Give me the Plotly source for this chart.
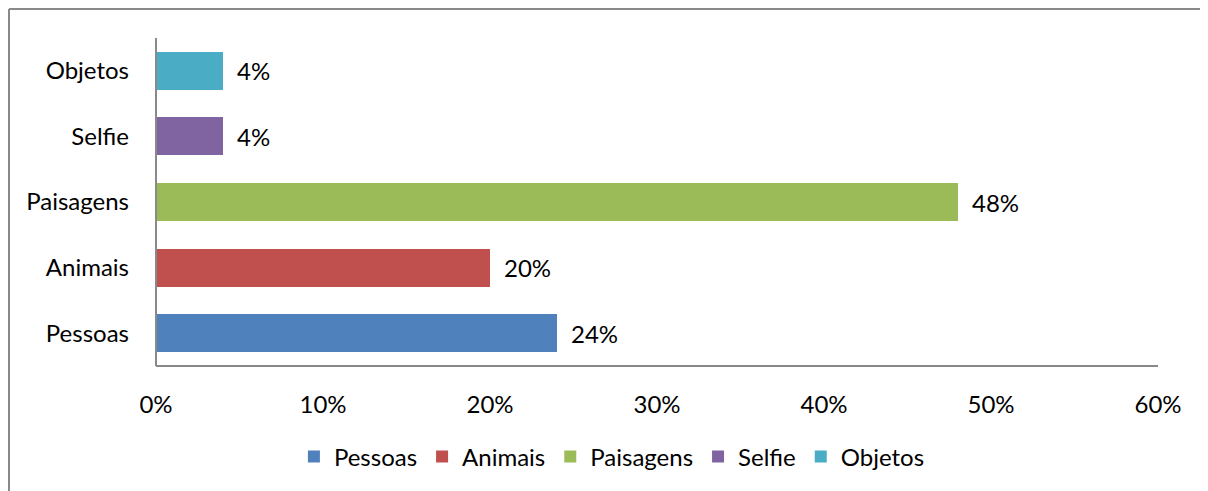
import plotly.graph_objects as go

categories = ["Pessoas", "Animais", "Paisagens", "Selfie", "Objetos"]
values = [0.24, 0.20, 0.48, 0.04, 0.04]
labels = ["24%", "20%", "48%", "4%", "4%"]
colors = ["#4F81BD", "#C0504D", "#9BBB59", "#8064A2", "#4BACC6"]
tick_vals = [0, 0.1, 0.2, 0.3, 0.4, 0.5, 0.6]
tick_text = ["0%", "10%", "20%", "30%", "40%", "50%", "60%"]

FONT = "Lato"
FS = 24
W, H = 1200, 483
L, R, T, B = 148, 50, 30, 125
pw, ph = W - L - R, H - T - B

fig = go.Figure()
for c, v, col in zip(categories, values, colors):
    fig.add_trace(go.Bar(y=[c], x=[v], name=c, orientation="h",
                         marker=dict(color=col, line=dict(width=0)), width=0.58))

for c, v, t in zip(categories, values, labels):
    fig.add_annotation(x=v, y=c, text=t, showarrow=False, xanchor="left",
                       xshift=12, font=dict(family=FONT, size=FS, color="#000000"))

fig.update_layout(
    width=W, height=H,
    margin=dict(l=L, r=R, t=T, b=B),
    paper_bgcolor="white", plot_bgcolor="white",
    barmode="stack",
    font=dict(family=FONT, size=FS, color="#000000"),
    showlegend=True,
    legend=dict(orientation="h", x=0.455, xanchor="center", y=(358 - 449) / ph,
                yanchor="middle", font=dict(family=FONT, size=FS),
                traceorder="normal", itemwidth=30),
    xaxis=dict(range=[0, 0.6], tickvals=tick_vals, ticktext=tick_text,
               showgrid=False, zeroline=False, showline=False,
               ticks="", ticklabelstandoff=22),
    yaxis=dict(categoryorder="array", categoryarray=categories,
               showgrid=False, zeroline=False, showline=False,
               ticks="", ticklabelstandoff=26),
)

# axis lines
fig.add_shape(type="line", xref="paper", yref="paper", x0=0, x1=0, y0=0, y1=1,
              line=dict(color="#898989", width=2))
fig.add_shape(type="line", xref="paper", yref="paper", x0=0, x1=1, y0=0, y1=0,
              line=dict(color="#898989", width=2))
# chart frame (top and left edges)
fx0 = (1 - L) / pw
fy1 = (H - B - 1) / ph
fig.add_shape(type="line", xref="paper", yref="paper", x0=fx0, x1=(W - L) / pw,
              y0=fy1, y1=fy1, line=dict(color="#898989", width=2))
fig.add_shape(type="line", xref="paper", yref="paper", x0=fx0, x1=fx0,
              y0=fy1, y1=(-B) / ph, line=dict(color="#898989", width=2))

fig.write_html("out.html")
